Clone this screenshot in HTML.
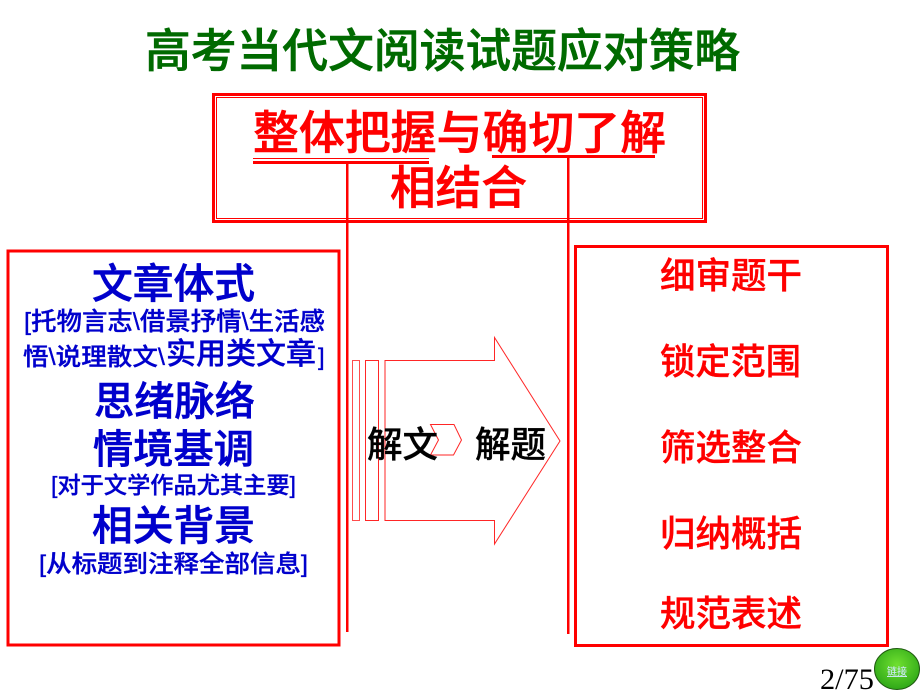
<!DOCTYPE html>
<html><head><meta charset="utf-8"><style>
html,body{margin:0;padding:0;background:#fff;width:920px;height:690px;overflow:hidden}
svg{display:block}
text{font-family:"Liberation Sans","Noto Sans CJK SC",sans-serif;font-weight:500}
.h{stroke-width:.6px}
.m{stroke-width:.35px}
</style></head><body>
<svg width="920" height="690" viewBox="0 0 920 690" xmlns="http://www.w3.org/2000/svg">
<defs><radialGradient id="g" cx="50%" cy="40%" r="60%"><stop offset="0" stop-color="#70e030"/><stop offset="1" stop-color="#2fa818"/></radialGradient></defs>
<rect width="920" height="690" fill="#fff"/>
<text class="h" x="145" y="67" font-size="46" fill="#006a00" stroke="#006a00" textLength="595" lengthAdjust="spacingAndGlyphs">高考当代文阅读试题应对策略</text>

<rect x="213.500" y="94.500" width="492" height="127" fill="none" stroke="#f00" stroke-width="3"/>
<rect x="216.500" y="97.500" width="486" height="121" fill="none" stroke="#f00" stroke-width="1"/>
<g fill="#f00" stroke="#f00">
<text class="h" x="253" y="149" font-size="46" textLength="413" lengthAdjust="spacingAndGlyphs">整体把握与确切了解</text>
<text class="h" x="390" y="204" font-size="46" textLength="137" lengthAdjust="spacingAndGlyphs">相结合</text>
</g>
<rect x="253" y="158" width="176" height="1" fill="#f00"/>
<rect x="253" y="161" width="176" height="3" fill="#f00"/>
<rect x="492" y="155" width="163" height="3" fill="#f00"/>
<rect x="346" y="163" width="2.500" height="469" fill="#f00"/>
<rect x="567" y="158" width="2.500" height="476" fill="#f00"/>

<rect x="8" y="251" width="331" height="394" fill="none" stroke="#f00" stroke-width="3"/>
<rect x="575.500" y="246.500" width="312" height="399" fill="none" stroke="#f00" stroke-width="3"/>

<g fill="#0000cc" stroke="#0000cc">
<text class="h" x="92" y="298" font-size="41" textLength="163" lengthAdjust="spacingAndGlyphs">文章体式</text>
<text class="m" x="24" y="330" font-size="25" textLength="301" lengthAdjust="spacingAndGlyphs">[托物言志\借景抒情\生活感</text>
<text class="m" x="23" y="365" font-size="24" textLength="142" lengthAdjust="spacingAndGlyphs">悟\说理散文\</text>
<text class="m" x="166" y="364" font-size="30" textLength="150" lengthAdjust="spacingAndGlyphs">实用类文章</text>
<text class="m" x="318" y="365" font-size="24">]</text>
<text class="h" x="94" y="415" font-size="40" textLength="161" lengthAdjust="spacingAndGlyphs">思绪脉络</text>
<text class="h" x="93" y="463" font-size="40" textLength="161" lengthAdjust="spacingAndGlyphs">情境基调</text>
<text class="m" x="51" y="493" font-size="23" textLength="245" lengthAdjust="spacingAndGlyphs">[对于文学作品尤其主要]</text>
<text class="h" x="92" y="540" font-size="41" textLength="163" lengthAdjust="spacingAndGlyphs">相关背景</text>
<text class="m" x="39" y="572" font-size="24" textLength="269" lengthAdjust="spacingAndGlyphs">[从标题到注释全部信息]</text>
</g>

<g fill="#f00" stroke="#f00" font-size="36">
<text class="m" x="660" y="288" textLength="142" lengthAdjust="spacingAndGlyphs">细审题干</text>
<text class="m" x="660" y="374" textLength="141" lengthAdjust="spacingAndGlyphs">锁定范围</text>
<text class="m" x="660" y="460" textLength="142" lengthAdjust="spacingAndGlyphs">筛选整合</text>
<text class="m" x="660" y="546" textLength="142" lengthAdjust="spacingAndGlyphs">归纳概括</text>
<text class="m" x="660" y="626" textLength="142" lengthAdjust="spacingAndGlyphs">规范表述</text>
</g>

<g fill="none" stroke="#f00" stroke-width="1">
<rect x="352.500" y="360.500" width="7" height="160" stroke-opacity=".7"/>
<rect x="365.500" y="360.500" width="13" height="160" stroke-opacity=".85"/>
<path d="M385 360.500H494.500V337.500L560 441L494.500 544V520.500H385Z" stroke-opacity=".85"/>
<path d="M430.500 424.500H454L461.500 440L453.500 455H430.500L438.500 440Z" stroke-opacity=".85"/>
</g>
<g fill="#000" stroke="#000">
<text class="m" x="367" y="457" font-size="36" textLength="71" lengthAdjust="spacingAndGlyphs">解文</text>
<text class="m" x="475" y="457" font-size="36" textLength="71" lengthAdjust="spacingAndGlyphs">解题</text>
</g>

<text x="820" y="689" font-size="30" fill="#000" style="font-family:'Liberation Serif',serif;font-weight:400" textLength="54" lengthAdjust="spacingAndGlyphs">2/75</text>
<ellipse cx="897" cy="669" rx="22.500" ry="20.500" fill="url(#g)" stroke="#1f5a10" stroke-width="1"/>
<text x="887" y="675" font-size="10" fill="#c8e8f0" textLength="20" lengthAdjust="spacingAndGlyphs" text-decoration="underline">链接</text>
</svg>
</body></html>
